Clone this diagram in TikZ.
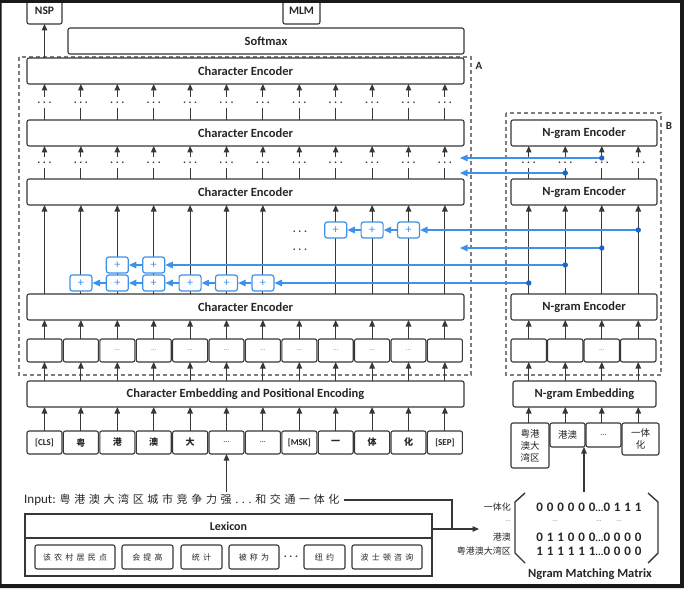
\documentclass[tikz,border=0pt]{standalone}
\usepackage{fontspec}
\setmainfont{Carlito}
\newfontfamily\cjk{Noto Sans CJK SC}
\usetikzlibrary{arrows.meta}
\definecolor{lc}{RGB}{55,55,55}
\definecolor{bl}{RGB}{60,145,235}
\definecolor{bld}{RGB}{30,100,205}
\definecolor{dg}{RGB}{125,125,125}
\newcommand\boxat[6]{\node[#1,minimum width={#4-#2},minimum height={#5-#3}] (#6) at ({(#2+#4)/2},{(#3+#5)/2})}
\newcommand\mylsp[1]{{\addfontfeature{LetterSpace=30}#1}}
\tikzset{
 box/.style={draw=lc,line width=1.1pt,rounded corners=2pt,fill=white,inner sep=0pt,outer sep=0pt,text=black!85,font=\bfseries\fontsize{12.5}{14}\selectfont},
 tok/.style={box,font=\bfseries\fontsize{9}{10}\selectfont},
 ctok/.style={box,font=\cjk\fontsize{9.5}{12}\selectfont},
 wbox/.style={box,font={\cjk\fontsize{8}{8}\selectfont\addfontfeature{LetterSpace=40}}},
 arr/.style={draw=lc,line width=1.1pt,-{Triangle[length=6.5pt,width=5.5pt]}},
 ln/.style={draw=lc,line width=1.1pt},
 barr/.style={draw=bl,line width=1.3pt,-{Triangle[length=7.5pt,width=6.5pt]}},
 plusbox/.style={draw=bl,line width=1.2pt,rounded corners=2.5pt,fill=white,minimum width=22pt,minimum height=16pt,inner sep=0pt,text=bl,font=\fontsize{12}{12}\selectfont},
 dashbox/.style={draw=dg,line width=1.1pt,dash pattern=on 4pt off 3pt},
 vd/.style={inner sep=0pt,text=lc,font=\boldmath\fontsize{11}{11}\selectfont},
 hd/.style={inner sep=0pt,text=gray,font=\fontsize{7}{7}\selectfont},
 matrow/.style={inner sep=0pt,text=black!85,font=\bfseries\fontsize{13}{13}\selectfont},
 matlab/.style={inner sep=0pt,anchor=east,text=black!85,font=\cjk\fontsize{9}{9}\selectfont},
}
\begin{document}
\begin{tikzpicture}[x=1pt,y=-1pt]
\useasboundingbox (0,0) rectangle (684,588);
\fill[white] (0,0) rectangle (684,588);
% dashed regions
\draw[dashbox] (19,57) rectangle (471,375);
\draw[dashbox] (506,113) rectangle (661,375);
\node[font=\bfseries\fontsize{11}{11}\selectfont,text=black!85] (labA) at (479,66) {A};
\node[font=\bfseries\fontsize{11}{11}\selectfont,text=black!85] (labB) at (669,126) {B};
% top boxes
\boxat{box,font=\bfseries\fontsize{11.5}{12}\selectfont}{27}{-2}{62}{24}{nsp}{NSP};
\boxat{box,font=\bfseries\fontsize{11.5}{12}\selectfont}{283}{-2}{320}{24}{mlm}{MLM};
\boxat{box}{68}{28}{464}{54}{soft}{Softmax};
\boxat{box}{27}{58}{464}{84}{ce1}{Character Encoder};
\boxat{box}{27}{120}{464}{146}{ce2}{Character Encoder};
\boxat{box}{27}{179}{464}{205}{ce3}{Character Encoder};
\boxat{box}{27}{294}{464}{320}{ce4}{Character Encoder};
\boxat{box}{27}{381}{464}{407}{emb}{Character Embedding and Positional Encoding};
% hidden row
\foreach \i in {0,...,11}{
  \pgfmathsetmacro\xa{27+36.4*\i}
  \pgfmathsetmacro\xb{\xa+35}
  \boxat{box}{\xa}{339}{\xb}{362}{h\i}{};
}
\foreach \i in {2,...,10} \node[hd] at (h\i) {...};
% tokens
\foreach \i/\lab in {0/{[CLS]},1/{\cjk 粤},2/{\cjk 港},3/{\cjk 澳},4/{\cjk 大},5/{\mdseries\fontsize{8}{8}\selectfont ...},6/{\mdseries\fontsize{8}{8}\selectfont ...},7/{[MSK]},8/{\cjk 一},9/{\cjk 体},10/{\cjk 化},11/{[SEP]}}{
  \pgfmathsetmacro\xa{27+36.4*\i}
  \pgfmathsetmacro\xb{\xa+35}
  \boxat{tok}{\xa}{431}{\xb}{454}{t\i}{\lab};
}
% column arrows
\foreach \i in {0,...,11}{
  \draw[arr] (t\i.north) -- (t\i.north |- emb.south);
  \draw[arr] (h\i |- emb.north) -- (h\i.south);
  \draw[arr] (h\i.north) -- (h\i.north |- ce4.south);
  \draw[ln] (h\i |- ce3.north) -- ++(0,-11);
  \node[vd] at (h\i |- 0,163) {$\cdots$};
  \draw[arr] (h\i |- 0,157) -- (h\i |- ce2.south);
  \draw[ln] (h\i |- ce2.north) -- ++(0,-12);
  \node[vd] at (h\i |- 0,103) {$\cdots$};
  \draw[arr] (h\i |- 0,97) -- (h\i |- ce1.south);
}
\foreach \i in {0,...,6,8,9,10,11} \draw[arr] (h\i |- ce4.north) -- (h\i |- ce3.south);
\draw[arr] (h0 |- ce1.north) -- (h0 |- nsp.south);
\node[vd] (m1) at (300,232) {$\cdots$};
\node[vd] (m2) at (300,250) {$\cdots$};
% N-gram side
\boxat{box}{511}{120}{657}{146}{ne1}{N-gram Encoder};
\boxat{box}{511}{179}{657}{205}{ne2}{N-gram Encoder};
\boxat{box}{511}{294}{657}{320}{ne3}{N-gram Encoder};
\boxat{box}{513}{381}{656}{407}{nemb}{N-gram Embedding};
\foreach \j in {0,...,3}{
  \pgfmathsetmacro\xa{511+36.5*\j}
  \pgfmathsetmacro\xb{\xa+35.5}
  \boxat{box}{\xa}{339}{\xb}{362}{g\j}{};
}
\node[hd] at (g2) {...};
\boxat{ctok,align=center}{511}{423}{549}{468}{n0}{粤港\\澳大\\湾区};
\boxat{ctok}{550}{423}{585}{447}{n1}{港澳};
\boxat{ctok,font=\mdseries\fontsize{8}{8}\selectfont}{586}{423}{621}{447}{n2}{...};
\boxat{ctok,align=center}{622}{423}{659}{455}{n3}{一体\\化};
\foreach \j/\n in {0/n0,1/n1,2/n2,3/n3}{
  \draw[arr] (g\j |- \n.north) -- (g\j |- nemb.south);
  \draw[arr] (g\j |- nemb.north) -- (g\j.south);
  \draw[arr] (g\j.north) -- (g\j |- ne3.south);
  \draw[arr] (g\j |- ne3.north) -- (g\j |- ne2.south);
  \draw[ln] (g\j |- ne2.north) -- ++(0,-11);
  \node[vd] at (g\j |- 0,163) {$\cdots$};
  \draw[arr] (g\j |- 0,157) -- (g\j |- ne1.south);
}
% plus boxes
\foreach \i in {1,...,6} \node[plusbox] (pa\i) at (h\i |- 0,283) {+};
\foreach \i in {2,3} \node[plusbox] (pb\i) at (h\i |- 0,265) {+};
\foreach \i in {8,9,10} \node[plusbox] (pc\i) at (h\i |- 0,230) {+};
% blue connections
\coordinate (d1) at (g0 |- 0,283);
\coordinate (d2) at (g1 |- 0,265);
\coordinate (d3) at (g2 |- 0,248);
\coordinate (d4) at (g3 |- 0,230);
\coordinate (d5) at (g2 |- 0,158);
\coordinate (d6) at (g1 |- 0,173);
\coordinate (e3) at (460,248);
\coordinate (e5) at (460,158);
\coordinate (e6) at (460,173);
\draw[barr] (d1) -- (pa6.east);
\foreach \a/\b in {6/5,5/4,4/3,3/2,2/1} \draw[barr] (pa\a.west) -- (pa\b.east);
\draw[barr] (d2) -- (pb3.east);
\draw[barr] (pb3.west) -- (pb2.east);
\draw[barr] (d4) -- (pc10.east);
\draw[barr] (pc10.west) -- (pc9.east);
\draw[barr] (pc9.west) -- (pc8.east);
\draw[barr] (d3) -- (e3);
\draw[barr] (d5) -- (e5);
\draw[barr] (d6) -- (e6);
\foreach \d in {d1,d2,d3,d4,d5,d6} \fill[bld] (\d) circle (2.7);
% input
\node[anchor=west,inner sep=0pt,text=black!85,font=\fontsize{13}{13}\selectfont] (inp) at (24,500) {Input: {\cjk\fontsize{11}{11}\selectfont\addfontfeature{LetterSpace=33}粤港澳大湾区城市竞争力强...和交通一体化}};
\coordinate (ia) at (h5 |- 0,492);
\draw[arr] (ia) -- (t5.south);
% lexicon
\boxat{draw=lc,line width=1.1pt,fill=white,inner sep=0pt}{25}{514}{432}{576}{lex}{};
\draw[ln] (lex.west |- 0,538) -- (lex.east |- 0,538);
\node[font=\bfseries\fontsize{12}{12}\selectfont,text=black!85] (lexl) at (228.5,526) {Lexicon};
\boxat{wbox}{35}{545}{115}{569}{w1}{该农村居民点};
\boxat{wbox}{122}{545}{173}{569}{w2}{会提高};
\boxat{wbox}{181}{545}{222}{569}{w3}{统计};
\boxat{wbox}{229}{545}{279}{569}{w4}{被称为};
\node[vd] (wd) at (291,557) {$\cdots$};
\boxat{wbox}{304}{545}{345}{569}{w5}{纽约};
\boxat{wbox}{352}{545}{422}{569}{w6}{波士顿咨询};
\coordinate (jn) at (452,529);
\coordinate (mat) at (479,529);
\draw[ln] ([xshift=4pt]inp.east) -| (jn);
\draw[arr] (lex.east |- jn) -- (mat);
% matrix
\draw[lc,line width=1.4pt] (525,493) -- (515,502) -- (515,553) -- (525,563);
\draw[lc,line width=1.4pt] (648,493) -- (658,502) -- (658,553) -- (648,563);
\coordinate (mtop) at (584,492);
\draw[arr] (mtop) -- (mtop |- n1.south);
\node[matrow] (r1) at (589,507) {\mylsp{000000}{\fontsize{10}{10}\selectfont...}\mylsp{0111}};
\node[matrow] (r2) at (589,537) {\mylsp{011000}{\fontsize{10}{10}\selectfont...}\mylsp{0000}};
\node[matrow] (r3) at (589,551) {\mylsp{111111}{\fontsize{10}{10}\selectfont...}\mylsp{0000}};
\foreach \x in {555,599,619} \node[hd] at (\x,521) {...};
\node[matlab] (l1) at (511,507) {一体化};
\node[hd,anchor=east] (l2) at (511,521) {...};
\node[matlab] (l3) at (511,537) {港澳};
\node[matlab] (l4) at (511,551) {粤港澳大湾区};
\node[font=\bfseries\fontsize{12.5}{13}\selectfont,text=black!85] (cap) at (590,574) {Ngram Matching Matrix};
% frame
\fill[black!90,even odd rule] (0,0) rectangle (684,588) (1.5,3) rectangle (680,584);
\end{tikzpicture}
\end{document}
